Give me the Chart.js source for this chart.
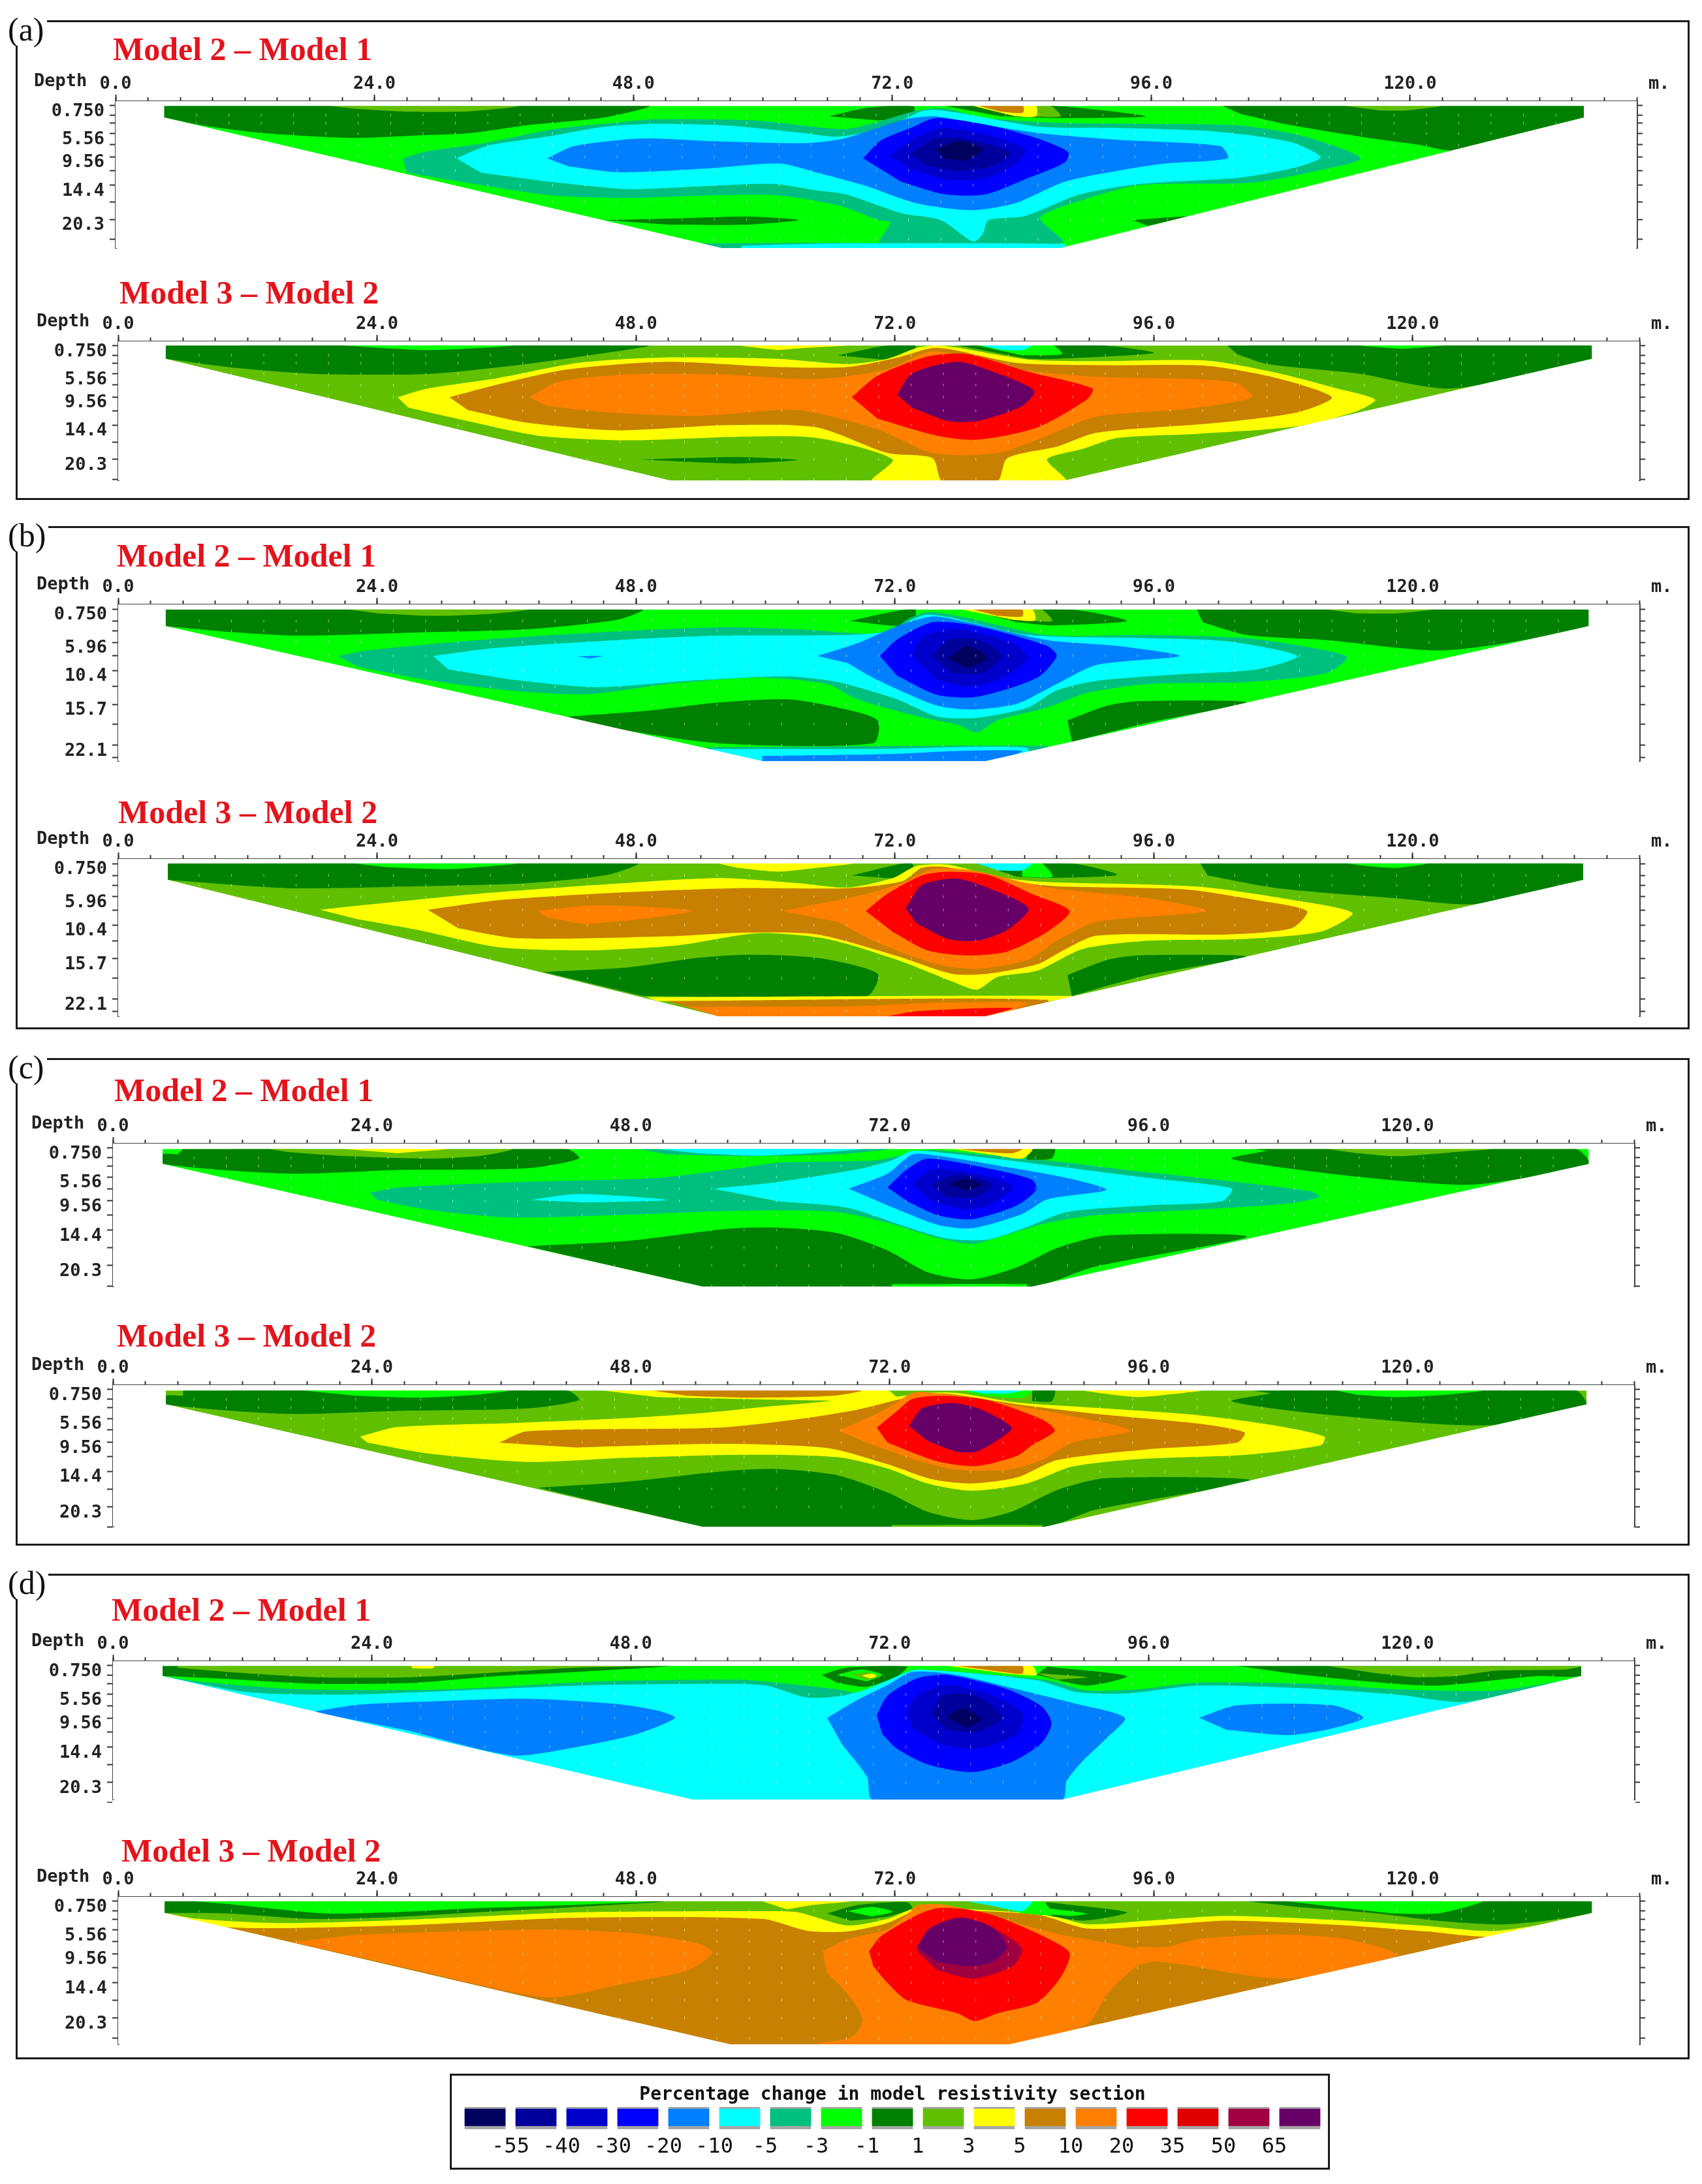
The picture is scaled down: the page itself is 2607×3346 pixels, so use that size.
<!DOCTYPE html>
<html>
<head>
<meta charset="utf-8">
<script src="https://cdn.jsdelivr.net/npm/chart.js@4/dist/chart.umd.min.js"></script>
<style>
  body { margin: 0; background: #fff; }
  #page { position: relative; width: 2607px; height: 3346px; background: #fff; overflow: hidden; }
  canvas { position: absolute; }
  .frame { position: absolute; border: 3px solid #1a1a1a; box-sizing: border-box; }
  .tag { position: absolute; background: #fff; font: 50px "Liberation Serif", serif; color: #111; line-height: 50px; padding: 0 4px 0 12px; }
  .title { position: absolute; font: bold 50px "Liberation Serif", serif; color: #e3141c; line-height: 50px; white-space: pre; }
  .axisText { position: absolute; font: bold 27px "DejaVu Sans Mono", monospace; color: #222; line-height: 26px; }
</style>
</head>
<body>
<div id="page"></div>
<script>
// colour bins, same order as the legend swatches
const binColors = ['#00005f', '#00009a', '#0000cc', '#0000ff', '#0080ff', '#00ffff', '#00c080', '#00ff00', '#008000', '#60c000', '#ffff00', '#c88000', '#ff8000', '#ff0000', '#e00000', '#a00040', '#660066'];
const legendLevels = ['-55', '-40', '-30', '-20', '-10', '-5', '-3', '-1', '1', '3', '5', '10', '20', '35', '50', '65'];
const legendCenters = [0.5, 1.5, 2.5, 3.5, 4.5, 5.5, 6.5, 7.5, 8.5, 9.5, 10.5, 11.5, 12.5, 13.5, 14.5, 15.5, 16.5];
const legendHeights = [1, 1, 1, 1, 1, 1, 1, 1, 1, 1, 1, 1, 1, 1, 1, 1, 1];

// distance along the line (m)
const xLabelled = [0, 24, 48, 72, 96, 120];
const xMinor = [0, 3, 6, 9, 12, 15, 18, 21, 24, 27, 30, 33, 36, 39, 42, 45, 48, 51, 54, 57, 60, 63, 66, 69, 72, 75, 78, 81, 84, 87, 90, 93, 96, 99, 102, 105, 108, 111, 114, 117, 120, 123, 126, 129, 132, 135, 138, 141];
const blockX = [7.5, 10.5, 13.5, 16.5, 19.5, 22.5, 25.5, 28.5, 31.5, 34.5, 37.5, 40.5, 43.5, 46.5, 49.5, 52.5, 55.5, 58.5, 61.5, 64.5, 67.5, 70.5, 73.5, 76.5, 79.5, 82.5, 85.5, 88.5, 91.5, 94.5, 97.5, 100.5, 103.5, 106.5, 109.5, 112.5, 115.5, 118.5, 121.5, 124.5, 127.5, 130.5, 133.5];

// model layer depths (m)
const layersA = [0.75, 2.38, 3.75, 5.56, 7.5, 9.56, 11.9, 14.4, 17.3, 20.3, 23.7];
const labelsA = ['0.750', '5.56', '9.56', '14.4', '20.3'];
const labelDepthsA = [0.75, 5.56, 9.56, 14.4, 20.3];
const layersB = [0.75, 2.6, 4.15, 5.96, 8.05, 10.4, 12.9, 15.7, 18.8, 22.1, 24];
const labelsB = ['0.750', '5.96', '10.4', '15.7', '22.1'];
const labelDepthsB = [0.75, 5.96, 10.4, 15.7, 22.1];

// section (a), Model 2 - Model 1
const a1Outline = [4.5, 0.8, 4.5, 2.8, 56.2, 25.2, 87.6, 25.2, 136.1, 3.5, 136.1, 0.8];
const a1Base = 7;
const a1Bins = [8, 9, 8, 8, 9, 10, 11, 8, 9, 8, 8, 6, 6, 5, 5, 4, 3, 2, 1, 0];
const a1Shapes = [
  [4.5,.8, 49.4,.8, 45.3,2.8, 38.3,4.1, 32.8,5.5, 27.7,5.9, 21.7,6.3, 13.8,5.5, 8.2,4.2, 4.5,2.8],
  [19.8,.8, 37.4,.8, 35.6,1.3, 32.3,1.8, 26.8,1.8, 22.1,1.3],
  [66.1,2.6, 69.8,1.1, 74,.9, 73.7,2.8, 70.7,3.3],
  [76.9,.8, 87.1,.8, 95.5,2.6, 87.1,2.9, 82,2.6],
  [84.8,.8, 86.7,.8, 87.6,2.6, 84.8,2.6],
  [79.5,.8, 85.3,.8, 85.3,2.6, 83.4,2.6],
  [80,.8, 84.1,.8, 84.1,2, 82,1.8],
  [102.6,.8, 136.2,.8, 136.2,3.5, 124.4,8.5, 120.5,7.4, 115.4,6.1, 108.9,4.1, 104.3,2.2],
  [114,.8, 122.8,.8, 119.5,1.6, 117.2,1.6],
  [45.3,20.4, 52.3,20.1, 58.7,19.8, 63.3,20.4, 58.2,21.2, 51.3,21.2],
  [94.3,20.4, 99.4,19.8, 95.7,21.4],
  [26.6,9.8, 28.6,8.7, 34.2,7.2, 40.6,4.8, 46.2,3.7, 49.9,3.1, 59.2,3.3, 67.5,4.8, 70.7,3.5, 74.5,1.5, 77,1.3, 80.2,2.8, 87.1,3.7, 95.5,3.9, 104.3,4.2, 110.3,6.1, 115.4,9.8, 111.2,12, 105.2,14, 95,14.4, 89.9,16.8, 85.7,20, 87.8,24.3, 70.9,24.3, 71.8,20.8, 70.7,20.4, 67,17.9, 61.5,16.2, 54.5,16.2, 47.6,16.6, 40.6,16.2, 34.2,14.5, 27,12.3],
  [54,24.4, 72,24.4, 72,25.2, 54,25.2],
  [58,24.8, 68,24.4, 88,24.5, 88,25.2, 58,25.2],
  [31.6,9.8, 34.6,7.6, 40.6,5.9, 45.3,4.4, 49.9,3.9, 56.9,4.2, 63.8,5.5, 67,6.1, 71.6,4.4, 74.6,1.8, 76,1.5, 78.8,2.2, 85.7,4.4, 92.7,4.6, 101.9,5.2, 108.9,7, 111.7,9.6, 109.3,11.4, 104.3,13.1, 95,14.2, 89.4,16, 84.3,19.7, 80.9,20.4, 80.4,22.7, 79.5,24.1, 76.5,20.4, 72.8,19.2, 67.7,16, 64.9,15.3, 61,14.2, 54.5,14.6, 47.6,15.1, 40.6,13.9, 33.9,12.3],
  [40,9.8, 42.5,7.7, 47.1,6.6, 49.9,6.4, 55.9,6.9, 63.8,7.2, 67.5,6.4, 73.2,3.1, 76,2.6, 78.8,3.5, 85.7,5.5, 92.7,6.6, 102.4,7.7, 103.1,9.8, 97.3,10.7, 92.7,12, 88,13.8, 83.4,17.5, 79.3,18.7, 74.2,17.5, 69.5,14.5, 64.9,12.2, 61.5,10.7, 54.5,11.6, 46.7,12.2, 42,11.2],
  [69.3,9.8, 70.9,6.8, 73.7,4.6, 76,2.9, 81.1,4.2, 85.3,6.3, 88.3,8.7, 88,10.5, 84.3,13.4, 80.6,16, 76.9,16, 72.8,13.8],
  [71.8,9.4, 73.7,6.8, 76.5,4.6, 80.6,5.7, 84.3,8.3, 83.4,10.9, 80.2,13.4, 76.9,13.4, 73.7,11.6],
  [73.7,9, 76,6.4, 79.7,6.8, 83,9, 81.1,11.2, 77.9,12, 75,10.9],
  [76,8.3, 78.3,6.8, 80.4,8.3, 78.8,10.1, 76.9,9.9]
];

// section (a), Model 3 - Model 2
const a2Outline = [4.4, 0.7, 4.4, 3, 51.1, 23.9, 87.8, 23.9, 136.6, 3, 136.6, 0.7];
const a2Base = 9;
const a2Bins = [8, 7, 10, 8, 8, 7, 5, 8, 7, 8, 10, 11, 12, 13, 16];
const a2Shapes = [
  [4.4,.7, 49.1,.7, 44.4,2.2, 37,4.1, 28.7,5.6, 18.5,5.6, 11.1,4.6, 4.4,3],
  [20.8,.7, 36.6,.7, 33.8,1.1, 28.7,1.5, 24.1,1.1],
  [57.4,.7, 67.6,.7, 63.9,1.1, 61.1,1.5],
  [66.7,2.4, 71.3,.7, 73.9,.7, 73.1,3.1, 70.8,3.1],
  [77.8,.7, 91.3,.7, 96,2, 87,3, 84.3,3],
  [79.6,.7, 86.6,.7, 87.5,2.2, 83.8,2.4],
  [80,.7, 84.7,.7, 83.8,1.5, 81.9,1.5],
  [102.8,.7, 136.6,.7, 136.6,3, 123.6,8.1, 114.8,5.5, 106.5,3.9, 103.7,2.2],
  [114.8,.7, 122.7,.7, 119,1.3],
  [48.4,20.3, 57.4,19.9, 63,20.4, 57.4,21, 52.8,20.7],
  [25.9,9.6, 28.7,8.1, 35.2,6.3, 42.6,3.7, 50,2.8, 61.1,3, 67.6,3.9, 71.3,3, 74.1,1.1, 75.9,.7, 77.8,1.1, 84.3,3.1, 90.7,3.4, 100.9,3.3, 107.4,5.4, 113,8.1, 116.5,10, 114.8,12, 109.3,14.6, 100,15.9, 92.6,16.6, 89.4,18.5, 86.1,20.3, 87.8,24, 69.9,24, 71.8,20.3, 64.8,16.6, 57.4,16.4, 47.2,17, 38.9,16.2, 32.4,13.7, 26.9,11.4],
  [30.7,9.6, 35.2,7.4, 41.7,4.8, 50.9,3.5, 61.1,4.4, 67.6,4.4, 72.2,2.8, 75.9,1.1, 83.3,3.7, 91.7,4.1, 100.9,4.2, 107.4,6.3, 112.5,9.6, 109.3,12.2, 101.9,14, 90.7,15.7, 87,18.1, 82.4,20.1, 81.5,24, 76.4,24, 75.5,20.1, 71.3,19.2, 64.8,14.8, 56.5,14.4, 46.3,15.3, 38,14, 32.4,11.8],
  [38.1,9.6, 40.7,7, 47.2,5.7, 55.6,5.7, 64.8,6.5, 71.3,4.8, 75.5,1.7, 83.3,4.8, 90.7,6.1, 100,6.5, 103.7,7.2, 105.1,9.6, 99,11.6, 90.7,12.9, 86.1,16.2, 81.5,19.2, 75.5,19.2, 70.4,15.1, 63,11.8, 53.7,12.8, 45.4,12.2, 39.8,11.1],
  [68,9.6, 70.4,5.9, 75,2.6, 78.7,2.2, 84.3,5.2, 90.3,8.1, 89.8,10, 85.2,14.8, 79.6,16.9, 75.9,16.2, 70.4,13.3],
  [72.2,9.2, 73.6,5.5, 77.8,3.5, 81.5,5.5, 84.9,8.5, 83.8,11.1, 79.6,13.7, 76.9,13.7, 73.6,11.4]
];

// section (b), Model 2 - Model 1
const b1Outline = [4.4, 0.8, 4.4, 3.4, 59.7, 24.6, 80.4, 24.6, 136.3, 3.4, 136.3, 0.8];
const b1Base = 7;
const b1Bins = [8, 9, 8, 8, 9, 10, 11, 8, 9, 8, 8, 6, 5, 4, 6, 5, 4, 4, 3, 2, 1, 0];
const b1Shapes = [
  [4.4,.8, 48.6,.8, 46.3,2.4, 37.9,3.9, 27.8,4.4, 16.7,4.9, 10.2,4.3, 4.4,3.4],
  [21.3,.8, 38,.8, 35.2,1.4, 29.6,1.8, 24.1,1.4],
  [67.8,2.6, 72.2,1, 73.9,.8, 73.6,3.3, 71.3,3.3],
  [78.7,.8, 88.4,.8, 93.5,2.6, 86.6,3.3, 83.3,2.8],
  [84.3,.8, 85.6,.8, 86.6,2.6, 84.7,2.6],
  [78.2,.8, 84.7,.8, 85,2.5, 82.9,2.4],
  [79.2,.8, 83.8,.8, 83.8,1.9, 81.5,1.8],
  [100,.8, 136.3,.8, 136.3,3.4, 123.1,7.2, 112,5.6, 104.6,4.8, 100.5,2.8],
  [112,.8, 121.8,.8, 118.5,1.4, 114.8,1.4],
  [41.7,17.6, 49,16.7, 55.6,15.4, 62,14.9, 66.7,16.2, 70.4,18.2, 70,21.8, 55.6,21.8, 44,19],
  [88,18.2, 91.7,15.9, 94.6,15.2, 104.6,15.4, 95.4,18.6, 88.4,21.6],
  [54.6,22.4, 86.1,22.2, 86.1,23, 54.6,23],
  [55,22.7, 70.4,22.7, 84.2,22.5, 84.2,24.6, 55.6,24.6],
  [59.7,23.8, 71.3,23.5, 77.8,23, 83.8,23, 80.6,24.6, 59.7,24.6],
  [20.4,8.1, 23.1,7.2, 33.3,5.6, 44.4,4.4, 55.6,3.6, 63,3.9, 71.3,4.6, 73.1,2.4, 75,1.2, 77.8,1.8, 86.1,4.8, 95.4,4.8, 104.6,5.3, 110.6,6.8, 113.9,8.3, 112,10.8, 104.6,12.2, 95.4,12.5, 89.8,13.9, 86.1,16.2, 81.5,18.2, 79.6,20.1, 77.8,18.9, 74.1,17.6, 68.5,14.9, 65.7,12.5, 59.3,11.5, 50.9,12.5, 43.5,14.1, 36.1,13.5, 28.7,11.9, 22.2,9.8],
  [29.2,8.1, 35.2,6.8, 46.3,5.6, 55.6,4.9, 67.6,4.8, 71.8,4.1, 73.6,2.4, 75,1.6, 77.8,2.3, 84.3,4.8, 95.4,5.3, 102.8,5.8, 109.3,8.1, 105.6,10.2, 98.1,11, 90.7,12, 87,13.5, 84.3,16.2, 79.6,17.8, 75.9,17.6, 72.2,14.9, 66.7,12.2, 62,11.3, 53.7,11.9, 44.4,13, 37,11.9, 30.6,10.2],
  [42.6,8.1, 44.9,8.1, 43.7,8.5],
  [64.8,8.1, 68.5,6.1, 72.2,3.4, 75.5,1.9, 78.7,2.8, 86.1,5.6, 92.6,6.5, 98.4,8.1, 90.7,9.5, 87,12.5, 83.3,15.6, 79.2,16.5, 75.9,15.9, 70.4,11.9, 67.6,9.2],
  [70.6,8.1, 72.2,5.5, 75.5,2.8, 79.6,3.4, 86.1,6.5, 87,8.1, 85.2,11.5, 79.6,14.5, 75.9,14.2, 72.2,11.2],
  [73.6,8.1, 74.5,5.1, 77.8,3.9, 82.9,6.1, 84.3,8.5, 81.5,11.9, 78.7,12.9, 75.9,11.9],
  [75.5,8.1, 76.9,5.6, 79.6,5.5, 81.9,8.1, 80,10.8, 77.3,10.8],
  [76.9,8.5, 78.7,6.5, 80.6,8.5, 78.7,10]
];

// section (b), Model 3 - Model 2
const b2Outline = [4.6, 0.7, 4.6, 3.3, 55.6, 24.8, 80.4, 24.8, 135.8, 3.3, 135.8, 0.7];
const b2Base = 9;
const b2Bins = [8, 7, 10, 8, 8, 7, 5, 8, 7, 8, 8, 10, 11, 12, 13, 10, 11, 12, 12, 13, 16];
const b2Shapes = [
  [4.6,.7, 48.1,.7, 45.4,2.5, 38,3.8, 27.8,4.3, 15.7,4.6, 4.6,3.3],
  [21.8,.7, 37,.7, 33.3,1.3, 30.6,1.6, 25,1.3],
  [55.6,.7, 68,.7, 64.8,1.4, 61.1,2, 57.4,1.4],
  [68,2.6, 72.2,.9, 73.6,.7, 73.6,3, 71.3,3],
  [79.6,.7, 88.4,.7, 92.6,2.5, 86.1,3, 83.3,2.8],
  [83.8,.7, 85.6,.7, 86.6,2.8, 83.8,2.8],
  [79.6,.7, 84.7,.7, 83.8,1.8, 81.5,1.8],
  [100.3,.7, 135.8,.7, 135.8,3.3, 125.9,7.1, 118.5,6.2, 107.4,4.6, 101,2.6],
  [113.9,.7, 121.3,.7, 118.5,1.4, 115.7,1.1],
  [39.4,17.8, 47.2,17.1, 53.7,15.6, 58.3,15.1, 64.8,15.6, 70.4,18.1, 69.4,21.6, 48.6,21.6],
  [88,18.3, 91.7,15.9, 94.6,15.2, 104.6,15.4, 95.4,18.3, 88.4,21.6],
  [49,21.8, 88.4,21.6, 86.1,22.4, 50,22.4],
  [50.9,22.4, 86.1,22.2, 81.5,24.8, 55.6,24.8],
  [52.8,23.3, 68.5,23.2, 75.9,22.7, 84.3,22.7, 80.4,24.8, 55.6,24.8],
  [71.3,24.8, 74,24, 82.9,23.5, 80.4,24.8],
  [18.7,8, 23.1,7.2, 33.3,5.5, 44.4,4.1, 55.6,3, 63,3.8, 67.6,4.5, 71.8,3, 74,1.1, 76.9,.9, 81.5,2.8, 85.6,3.6, 94.6,4, 101,4.5, 108.3,6.3, 114.4,8.5, 111.6,11.4, 104.6,12.6, 95.4,12.9, 89.4,14.2, 85.2,17.6, 81.5,18.6, 79.6,20.6, 77.3,19.3, 72.2,15.9, 65.7,12.6, 59.3,11.7, 51.9,13.6, 43.5,14.4, 35.2,13.9, 27.8,11.2, 22.2,9.5],
  [28.7,8, 35.2,6.5, 46.3,5.3, 57.4,4.6, 67.6,4.6, 72.7,3.5, 74.5,1.4, 76.9,1.3, 81.9,3.3, 87,4.3, 99,4.8, 105.6,6.5, 110.2,8.2, 108.8,10.9, 102.8,11.9, 90.7,12.1, 87.4,14.6, 85.2,16.6, 80.6,18.1, 77.3,18.1, 72.2,15.3, 64.8,11.9, 58.3,11.6, 50.9,12.2, 37,12.5, 31.5,10.9],
  [38.9,8.2, 44.4,7.3, 53.2,8.2, 43.5,10.2, 39.8,9.2],
  [61.6,8.2, 69.4,5.5, 73.1,3.5, 75.5,1.6, 79.2,1.8, 86.1,4.5, 95.4,6.2, 100.9,8.2, 90.7,9.9, 87,12.9, 84.3,15.9, 79.6,17.3, 75.9,16.6, 70.4,13.2, 66.7,9.9],
  [69.3,8.2, 71.3,5.5, 74.5,2.6, 76.9,2, 80.6,2.5, 84.7,5.5, 88.2,8.2, 86.1,11.5, 82.4,14.6, 78.7,15.2, 75,14.4, 71.8,11.5],
  [73,7.8, 74.5,4.1, 77.8,3.1, 81,4.8, 84.4,7.8, 82.4,11.2, 79.6,12.9, 76.9,12.6, 74,10.2]
];

// section (c), Model 2 - Model 1
const c1Outline = [4.6, 0.9, 4.6, 3.4, 54.6, 23.8, 85.2, 23.8, 136.8, 3.3, 136.8, 0.9];
const c1Base = 7;
const c1Bins = [8, 9, 10, 6, 5, 6, 8, 7, 8, 9, 8, 10, 11, 5, 5, 4, 3, 2, 1, 0];
const c1Shapes = [
  [6.5,.9, 42.1,.9, 43.2,2.5, 38.4,4.1, 26.4,4.4, 16.2,5, 4.6,3.4, 4.6,1.8, 6,1.8],
  [14.4,.9, 37,.9, 34.3,2, 29.2,2.5, 21.8,2.1, 16.2,1.4],
  [21.3,.9, 31,.9, 29.2,1.2, 26.4,1.6],
  [48.6,.9, 71.8,.9, 67.1,1.8, 57.9,2.1, 51.4,1.8],
  [50.5,.9, 69.4,.9, 66.2,1.4, 59.7,2, 54.2,1.6],
  [23.8,8.2, 26.4,7.3, 37.5,6.4, 50.5,5.7, 57.9,4.1, 61.6,3.2, 66.2,3, 70.8,2.8, 72.7,2.1, 75.5,1.1, 78.2,1.4, 86.6,2.8, 94.9,4.6, 103.2,6.2, 111.1,8, 111.8,8.9, 108.8,10, 100.5,11, 91.2,11.9, 86.6,13.2, 81.9,15.7, 79.6,16.7, 76.4,15.7, 71.8,13.2, 67.1,11.4, 57.9,11.2, 46.8,11.9, 36.6,12.3, 29.2,11, 24.5,9.4],
  [38.4,17.1, 47.7,16.2, 56.9,14.2, 61.6,14, 67.1,14.9, 71.8,17.8, 75.5,21.4, 79.6,22.6, 83.8,20.6, 87.5,17.4, 92.1,15.3, 105.1,15.5, 91,20.5, 85.2,23.8, 54.6,23.8],
  [72.2,23.4, 84.7,23.4, 84.7,23.8, 72.2,23.8],
  [105.6,.9, 135.6,.9, 136.8,3.4, 126.4,6.8, 118,6, 108.8,4.1, 103.7,2.5, 107,1.2],
  [112.5,.9, 127.8,.9, 124.5,1.4, 119,2.1, 115.3,1.6],
  [84.7,.9, 87.3,.9, 87,2.5, 84.7,2.7],
  [77.8,.9, 85.2,.9, 84.3,2.5, 82,2],
  [78.2,.9, 84.3,.9, 83.4,1.6, 81,1.4],
  [55.6,7.5, 61.6,6.4, 69,4.3, 72.2,2.8, 74.1,1.2, 77.3,1.6, 86.6,3.6, 95.9,5.7, 103.7,7.5, 102.8,9.6, 95.9,10.3, 88.4,11.4, 84.7,13.9, 81,16, 77.3,15.8, 73.6,13.9, 68.1,10.7, 61.6,9.6],
  [38.7,9.4, 43.1,8.4, 51.4,9.4, 44,9.8],
  [68.2,7.5, 71.8,5, 74.1,1.8, 76.4,2, 81.9,3.6, 88.4,5.7, 92.1,7.7, 86.6,9.3, 84.3,11.7, 79.6,14.1, 76.4,13.5, 71.8,10.3],
  [71.8,7.3, 73.6,4.3, 75.5,2.5, 81,4.1, 85.2,6, 85.6,7.7, 83.8,10.3, 79.6,12.6, 76.4,11.9, 73.6,9.6],
  [74.1,6.8, 75.9,4.3, 80,5, 83.4,7.1, 81.5,10, 79.2,11, 75.9,9.6],
  [75.9,6.8, 78.2,5.2, 81.5,6.8, 80,8.9, 77.3,8.9],
  [77.3,6.8, 79,5.9, 80.5,6.9, 79.2,7.8]
];

// section (c), Model 3 - Model 2
const c2Outline = [4.9, 0.9, 4.9, 3.2, 54.6, 23.6, 86.4, 23.6, 136.6, 3.9, 136.6, 0.9];
const c2Base = 9;
const c2Bins = [8, 7, 10, 11, 8, 7, 5, 10, 8, 7, 8, 9, 10, 11, 12, 13, 16];
const c2Shapes = [
  [6.5,.9, 42.1,.9, 43.2,2.5, 38.4,3.9, 26.4,4.3, 16.2,4.8, 4.9,3.2, 4.9,1.8, 6.5,1.8],
  [17.6,.9, 36.6,.9, 33.8,1.6, 28.2,2.1, 22.7,1.8],
  [45.4,.9, 71.8,.9, 72.7,2.5, 67.1,2.6, 57.9,2.3, 50.5,2],
  [50,.9, 69.4,.9, 66.7,1.8, 58.8,2.1, 53.2,1.8],
  [85.2,.9, 87.3,.9, 87,2.7, 85.2,2.7],
  [78.8,.9, 85.2,.9, 84.3,2.1, 80,1.6],
  [79.2,.9, 84.3,.9, 82.9,1.4, 80.6,1.4],
  [89.8,.9, 100.9,.9, 97.7,1.6, 94.9,2, 91.7,1.4],
  [105.6,.9, 135.6,.9, 136.6,3.9, 128.2,6.6, 122.7,6.5, 110.7,4.6, 103.7,2.7, 107.4,1.4],
  [113.4,.9, 126.9,.9, 123.6,1.6, 119,2, 115.3,1.6],
  [39.4,17.1, 47.7,16.1, 56.9,14.3, 61.6,14, 67.1,15, 71.8,17.9, 75.5,21.1, 79.6,22.5, 83.3,21.1, 87.5,17.5, 92.1,15.5, 105.5,15.9, 91,20.8, 86.4,23.6, 54.6,23.6],
  [72.2,23.3, 86.1,23.3, 86.1,23.6, 72.2,23.6],
  [22.9,8.6, 26.4,7, 37.5,6.3, 47.7,5.5, 55.1,4.6, 60.6,3.6, 67.1,2.5, 69.9,1.1, 71.8,2, 75.5,1.3, 78.2,1.3, 83.8,2.9, 91.2,3.8, 100.5,5, 107.9,6.8, 112.3,8.6, 112,10, 105.1,11.6, 95.4,12.3, 88.9,13.6, 84.7,16.4, 79.6,17.6, 75.5,16.4, 71.8,13.9, 67.1,12, 58.8,11.6, 47.7,12.1, 38.4,12.8, 29.2,11.4, 23.6,9.6],
  [35.8,9.6, 38.4,7.7, 56,7.1, 63.4,5.7, 69,4.1, 73.6,2.1, 76.9,1.4, 83.8,3.2, 91.2,4.8, 100.5,6.4, 104.9,7.9, 104.2,9.6, 95.9,10.7, 87.5,12.5, 83.8,15.4, 79.6,16.4, 75.9,15.7, 71.8,13.2, 66.2,10.5, 56,9.8, 43,10.4],
  [67.3,7.6, 71.8,3.9, 74.1,1.3, 76.4,1.4, 81.9,2.9, 88.4,5, 94.3,7.6, 88.9,9.6, 86.1,12.5, 82.9,14.1, 78.2,14.1, 74.5,12.5, 69.9,9.6],
  [70.8,7.1, 72.7,4.3, 74.1,2.3, 76.9,1.8, 81,2.5, 86.1,5.7, 87.3,7.6, 85.2,10, 83.8,11.8, 80,13.5, 76.4,12.7, 71.8,9.6],
  [73.8,6.8, 75,3.9, 77.8,3, 80.5,4.1, 83.3,7.1, 81.9,9.3, 80,11.1, 78.2,11.1, 75.5,9.3]
];

// section (d), Model 2 - Model 1
const d1Outline = [4.6, 0.8, 4.6, 2.5, 53.7, 23.2, 88, 23.2, 136.1, 2.5, 136.1, 0.8];
const d1Base = 5;
const d1Bins = [6, 7, 8, 9, 10, 8, 7, 9, 10, 8, 9, 10, 11, 8, 9, 4, 4, 4, 3, 2, 1, 0];
const d1Shapes = [
  [4.6,.8, 136.1,.8, 136.1,2.5, 125.5,6.8, 119,5.6, 109.7,4.5, 100.5,4.1, 94,5.4, 89.4,5.2, 85.6,3.2, 74.5,1.4, 72.7,2.5, 68.1,5.6, 64.4,6.1, 60.6,4.1, 56.9,3.8, 44.9,4, 31,5, 21.3,5.6, 12.5,5.2, 4.6,2.5],
  [4.6,.8, 136.1,.8, 136.1,2.5, 128.2,4.9, 119,4.7, 110.9,3.8, 100.5,3.6, 95,4.7, 90.3,4.9, 86.6,3.2, 74.5,1.4, 72.7,2.5, 69,5.2, 67.1,4.7, 62.5,3.8, 57.9,3.1, 44.9,3.4, 31,4.7, 17.1,4.7, 7.9,3.4, 4.6,2.5],
  [4.6,.8, 51.4,.8, 43,1.8, 35.6,2.5, 28.2,3.6, 19,3.8, 9.7,2.9, 4.6,2.5],
  [6,.8, 50.9,.8, 43,1.1, 34.7,2, 27.3,2.7, 19,2.7, 10.6,1.8, 6,1.1],
  [27.6,.8, 29.8,.8, 29.6,1.2, 27.8,1.2],
  [65.7,2.3, 68,1.1, 73.6,.9, 72.7,2.5, 69.9,4.3, 67.1,3.6],
  [67.1,2.3, 69.4,1.4, 71.3,2.3, 69.9,3.4],
  [68.5,2.3, 69.9,1.9, 71,2.5, 69.9,3.2],
  [69.4,2.4, 70.4,2.1, 70.8,2.5, 70.2,2.9],
  [86.6,.9, 94,2.5, 90.3,4.1, 85.6,2.3],
  [85.6,2, 90.3,2.7, 87.5,3.1],
  [77.3,.8, 85.2,.8, 85.6,2.3, 83.3,2.2],
  [78.2,.8, 84.3,.8, 84.3,2.1, 82.4,1.8],
  [104.2,.8, 136.1,.8, 136.1,2.5, 132,2.5, 122.7,4.1, 116.2,3.4, 109.7,2.2],
  [112.5,.8, 136.1,.8, 134.7,1.4, 128.2,1.6, 124.5,2.5, 120.8,2.7, 117,2],
  [18.5,8.5, 22.7,7.3, 30.1,6.7, 38.4,6.3, 46.8,7.2, 50.5,8.3, 52.1,9.5, 48.6,12.2, 43,14.4, 37,15.8, 27,11.5],
  [100.7,9.5, 104.2,7.4, 113,7.4, 115.9,9.5, 112.5,11.5, 108.8,12.4, 103.2,11.5],
  [66.2,9.5, 69,6.5, 71.8,4, 74.1,1.8, 78.2,2.3, 83.8,4.7, 89.4,7.2, 93.8,9.5, 92.1,12.9, 89.8,16.9, 88.4,20.1, 88,23.2, 70.4,23.2, 69.9,19.4, 67.6,14],
  [70.8,9, 71.8,5.8, 74.5,2.9, 77.3,2.3, 82.9,4.7, 86.1,7.6, 87,10.4, 86.1,13.7, 83.3,16.9, 79.6,18.6, 75.5,17.3, 72.7,14.7, 71.3,12.2],
  [73.6,8.6, 74.5,5.8, 77.3,4, 81,5.4, 84.3,8.6, 83.8,12.2, 80,14.7, 76.4,13.7, 74.1,11.2],
  [75.9,9, 76.9,5.8, 80,5.8, 82.4,9.4, 80,11.9, 77.3,11.5],
  [77.3,9.4, 78.7,7.9, 80.5,9.7, 79.2,11.2]
];

// section (d), Model 3 - Model 2
const d2Outline = [4.3, 0.75, 4.3, 2.7, 56.7, 24.7, 82.6, 24.7, 136.6, 2.7, 136.6, 0.75];
const d2Base = 11;
const d2Bins = [10, 9, 8, 7, 10, 8, 7, 8, 7, 7, 5, 8, 7, 12, 12, 12, 13, 15, 16];
const d2Shapes = [
  [4.3,.75, 136.6,.75, 136.6,2.7, 127.3,6.6, 121.3,5.8, 113.9,4.8, 102.8,4, 96.3,4.8, 89.8,5.3, 85.2,3, 74.1,2.3, 71.3,4.4, 67.6,5.8, 63.9,5.7, 59.7,3.7, 42.6,3.5, 25.9,4.8, 10.2,5.1, 4.3,2.7],
  [4.3,.75, 136.6,.75, 136.6,2.7, 127.8,5.7, 121.3,4.9, 113.9,4, 102.8,3.2, 95.4,4, 89.8,4.6, 86.1,3, 74.1,1.9, 71.3,3.7, 67.6,4.8, 63,2.6, 60.2,2.4, 42.6,2.6, 25.9,3.9, 14.8,4.4, 7.4,3.7, 4.3,2.7],
  [4.3,.75, 50.5,.75, 42.6,1.7, 35.2,2.4, 24.1,3.5, 17.6,3.7, 10.2,2.8, 4.3,2.7],
  [6.9,.75, 49.5,.75, 41.7,1.4, 33.3,1.9, 25,2.6, 19.4,2.8, 13.9,1.9, 10.2,1.2],
  [59.7,.75, 68,.75, 64.3,1.4, 62,2.1],
  [65.7,2.8, 68.5,1.4, 73.1,.9, 73.6,1.9, 71.3,3.3, 67.9,4],
  [67.6,2.4, 69.9,1.7, 71.8,2.5, 69.9,3.3],
  [86.1,.9, 93.5,2.6, 89.4,4, 85.2,2.8],
  [86.1,1.9, 89.8,2.8, 88.4,3.2, 85.6,2.8],
  [79.6,.75, 85.6,.75, 86.6,3, 83.8,2.8],
  [78.7,.75, 84.7,.75, 83.8,2.4, 81.5,1.7],
  [104.6,.75, 136.6,.75, 136.6,2.7, 128.7,4.6, 122.2,4, 116.7,2.8, 109.3,1.7],
  [108.3,.75, 126.4,.75, 125,1.7, 122.2,2.8, 118.5,2.8, 113.9,1.9],
  [16.2,7.6, 22.2,6.4, 33.3,5.7, 40.7,5.5, 48.1,6.2, 53.7,7.8, 55.1,9.4, 52.8,12.3, 47.2,14.4, 39.8,16.8, 27,12],
  [94.4,8.4, 97.2,8.4, 100,7.1, 107.4,6.3, 113.9,7.1, 118.5,9.8, 108.3,13.7, 98.1,11.2, 94.6,10.5],
  [65.3,9.1, 67.6,7.1, 71.3,5.5, 73.1,3, 74.1,1.4, 76.9,1.4, 87,6.2, 94.4,8.7, 96.3,10.5, 94.4,11.6, 91.7,16.2, 89.8,21.3, 82.6,24.7, 64.8,24.7, 68.1,23.4, 69,20.5, 67.6,16.2, 65.7,12.7],
  [69.6,9.1, 70.7,6.6, 74.1,3, 75.9,1.9, 78.7,2.1, 81.5,3.3, 86.1,6.9, 88.2,9.4, 87.4,13.4, 85.2,17.7, 81.5,19.5, 79.4,20.8, 77.8,19.5, 73.1,17.3, 71.3,14.4, 70,11.6],
  [74,9.1, 75,5.5, 77.8,3.5, 81,5.1, 83.8,8.7, 82.9,11.6, 79.2,13.7, 75.9,12.3],
  [74,8.4, 75.5,5.1, 78.2,3.5, 81,5.1, 82.4,8.4, 81,10.9, 78.7,11.6, 75.9,10.9]
];

const AXIS_MAX = 141;
const axisFont = { family: '"DejaVu Sans Mono", monospace', size: 27, weight: 'bold', lineHeight: 1 };

function toPoints(flat) {
  const pts = [];
  for (let i = 0; i < flat.length; i += 2) pts.push({ x: flat[i], y: flat[i + 1] });
  return pts;
}

function polygon(flat, color, tension) {
  return {
    type: 'scatter', showLine: true, data: toPoints(flat),
    backgroundColor: color, borderWidth: 0, borderColor: color,
    pointRadius: 0, fill: 'shape', tension: tension
  };
}

// white pieces that trim the contours to the section outline
function maskPieces(o, ymax) {
  const [xTL, dT, , dN, xBL, dB, xBR] = o;
  const xTR = o[8], low = ymax + 1;
  return [
    [0, 0, AXIS_MAX, 0, AXIS_MAX, dT, 0, dT],
    [0, 0, xTL, 0, xTL, dN, xBL, dB, xBL, low, 0, low],
    [AXIS_MAX, 0, xTR, 0, xTR, dN, xBR, dB, xBR, low, AXIS_MAX, low],
    [xBL, dB, xBR, dB, xBR, low, xBL, low]
  ];
}

function blockMarks(o, layers) {
  const [xTL, , , dN, xBL, dB, xBR] = o;
  const xTR = o[8];
  const pts = [];
  layers.slice(1).forEach(d => {
    if (d > dB) return;
    const t = Math.max(0, (d - dN) / (dB - dN));
    const lo = xTL + (xBL - xTL) * t, hi = xTR + (xBR - xTR) * t;
    blockX.forEach(x => { if (x > lo && x < hi) pts.push({ x: x, y: d }); });
  });
  return pts;
}

const page = document.getElementById('page');

function addDiv(cls, text, left, top, extra) {
  const el = document.createElement('div');
  el.className = cls;
  el.textContent = text;
  el.style.left = left + 'px';
  el.style.top = top + 'px';
  Object.assign(el.style, extra || {});
  page.appendChild(el);
}

function drawSection(cfg) {
  const H = 60; // room for the tick labels above the axis
  const canvas = document.createElement('canvas');
  canvas.width = 2607;
  canvas.height = cfg.bottom - cfg.top + H + 2;
  canvas.style.left = '0px';
  canvas.style.top = (cfg.top - H) + 'px';
  page.appendChild(canvas);

  const layers = cfg.layers;
  const datasets = [polygon(cfg.outline, binColors[cfg.base], 0)];
  cfg.shapes.forEach((s, i) => datasets.push(polygon(s, binColors[cfg.bins[i]], 0.25)));
  maskPieces(cfg.outline, cfg.ymax).forEach(m => datasets.push(polygon(m, '#ffffff', 0)));
  datasets.splice(datasets.length - 4, 0, {
    type: 'scatter', data: blockMarks(cfg.outline, layers),
    pointStyle: 'line', rotation: 90, pointRadius: 2,
    borderColor: 'rgba(255,255,255,0.55)', backgroundColor: 'rgba(255,255,255,0.55)', borderWidth: 1
  });
  datasets.forEach((d, i) => { d.order = datasets.length - i; });

  const tickLabel = v => {
    const k = cfg.labelDepths.indexOf(v);
    return k >= 0 ? cfg.labels[k] : '';
  };

  new Chart(canvas, {
    data: { datasets: datasets },
    options: {
      responsive: false, animation: false, devicePixelRatio: 1,
      layout: { padding: { bottom: 2 } },
      plugins: { legend: { display: false }, tooltip: { enabled: false }, title: { display: false } },
      scales: {
        x: {
          type: 'linear', position: 'top', min: 0, max: AXIS_MAX, weight: 1, z: 1,
          afterBuildTicks: s => { s.ticks = xLabelled.map(v => ({ value: v })); },
          afterFit: s => { s.height = H; s.paddingLeft = 0; s.paddingRight = 0; },
          ticks: { autoSkip: false, maxRotation: 0, padding: 3, color: '#222', font: axisFont, callback: v => v.toFixed(1) },
          grid: { drawOnChartArea: false, tickLength: 10, tickColor: '#333', tickWidth: 2 },
          border: { display: true, color: '#444', width: 3 }
        },
        xMinor: {
          type: 'linear', position: 'top', min: 0, max: AXIS_MAX, weight: 0, z: 1,
          afterBuildTicks: s => { s.ticks = xMinor.map(v => ({ value: v })); },
          afterFit: s => { s.height = 0; },
          ticks: { display: false, autoSkip: false },
          grid: { drawOnChartArea: false, tickLength: 6, tickColor: '#333', tickWidth: 2 },
          border: { display: false }
        },
        y: {
          type: 'linear', position: 'left', reverse: true, min: 0, max: cfg.ymax, z: 1,
          afterBuildTicks: s => { s.ticks = layers.map(v => ({ value: v })); },
          afterFit: s => { s.width = cfg.left; s.paddingTop = 0; s.paddingBottom = 0; },
          ticks: { autoSkip: false, padding: 8, labelOffset: 9, color: '#222', font: axisFont, callback: tickLabel },
          grid: { drawOnChartArea: false, tickLength: 9, tickColor: '#333', tickWidth: 2 },
          border: { display: true, color: '#444', width: 3 }
        },
        yRight: {
          type: 'linear', position: 'right', reverse: true, min: 0, max: cfg.ymax, z: 1,
          afterBuildTicks: s => { s.ticks = layers.map(v => ({ value: v })); },
          afterFit: s => { s.width = 2607 - cfg.left - 2330; s.paddingTop = 0; s.paddingBottom = 0; },
          ticks: { display: false, autoSkip: false },
          grid: { drawOnChartArea: false, tickLength: 9, tickColor: '#333', tickWidth: 2 },
          border: { display: true, color: '#444', width: 3 }
        }
      }
    }
  });

  addDiv('axisText', 'Depth', cfg.left - 125, cfg.top - 45);
  addDiv('axisText', 'm.', cfg.left + 2348, cfg.top - 41);
}

// frames round each group of two sections
[[31, 766, '(a)'], [806, 1577, '(b)'], [1621, 2368, '(c)'], [2411, 3155, '(d)']].forEach(([t, b, tag]) => {
  addDiv('frame', '', 24, t, { width: '2564px', height: (b - t) + 'px' });
  addDiv('tag', tag, 0, t - 11, {});
});

// titles
[['Model 2 – Model 1', 173, 50], ['Model 3 – Model 2', 183, 423], ['Model 2 – Model 1', 179, 826], ['Model 3 – Model 2', 181, 1219],
 ['Model 2 – Model 1', 175, 1645], ['Model 3 – Model 2', 179, 2021], ['Model 2 – Model 1', 171, 2441], ['Model 3 – Model 2', 186, 2810]].forEach(([t, x, y]) => {
  addDiv('title', t, x, y);
});

drawSection({ left: 177, top: 155, bottom: 383, ymax: 25.2, outline: a1Outline, base: a1Base, bins: a1Bins, shapes: a1Shapes, layers: layersA, labels: labelsA, labelDepths: labelDepthsA });
drawSection({ left: 181, top: 523, bottom: 739, ymax: 23.9, outline: a2Outline, base: a2Base, bins: a2Bins, shapes: a2Shapes, layers: layersA, labels: labelsA, labelDepths: labelDepthsA });
drawSection({ left: 181, top: 926, bottom: 1169, ymax: 24.6, outline: b1Outline, base: b1Base, bins: b1Bins, shapes: b1Shapes, layers: layersB, labels: labelsB, labelDepths: labelDepthsB });
drawSection({ left: 181, top: 1316, bottom: 1560, ymax: 24.8, outline: b2Outline, base: b2Base, bins: b2Bins, shapes: b2Shapes, layers: layersB, labels: labelsB, labelDepths: labelDepthsB });
drawSection({ left: 173, top: 1752, bottom: 1974, ymax: 23.8, outline: c1Outline, base: c1Base, bins: c1Bins, shapes: c1Shapes, layers: layersA, labels: labelsA, labelDepths: labelDepthsA });
drawSection({ left: 173, top: 2122, bottom: 2342, ymax: 23.6, outline: c2Outline, base: c2Base, bins: c2Bins, shapes: c2Shapes, layers: layersA, labels: labelsA, labelDepths: labelDepthsA });
drawSection({ left: 173, top: 2545, bottom: 2760, ymax: 23.2, outline: d1Outline, base: d1Base, bins: d1Bins, shapes: d1Shapes, layers: layersA, labels: labelsA, labelDepths: labelDepthsA });
drawSection({ left: 181, top: 2906, bottom: 3135, ymax: 24.7, outline: d2Outline, base: d2Base, bins: d2Bins, shapes: d2Shapes, layers: layersA, labels: labelsA, labelDepths: labelDepthsA });

// colour scale
addDiv('frame', '', 689, 3177, { width: '1348px', height: '147px' });
const legendCanvas = document.createElement('canvas');
legendCanvas.width = 1346;
legendCanvas.height = 142;
legendCanvas.style.left = '690px';
legendCanvas.style.top = '3180px';
page.appendChild(legendCanvas);

new Chart(legendCanvas, {
  type: 'bar',
  data: {
    datasets: [{
      data: legendCenters.map((x, i) => ({ x: x, y: legendHeights[i] })),
      backgroundColor: binColors, barThickness: 63,
      borderColor: 'rgba(0,0,0,0.35)', borderWidth: { top: 3, bottom: 5, left: 0, right: 0 }, borderSkipped: false
    }]
  },
  options: {
    responsive: false, animation: false, devicePixelRatio: 1,
    layout: { padding: { left: 14, right: 6 } },
    plugins: {
      legend: { display: false }, tooltip: { enabled: false },
      title: {
        display: true, text: 'Percentage change in model resistivity section', color: '#111',
        padding: { top: 16, bottom: 4 },
        font: { family: '"DejaVu Sans Mono", monospace', size: 28, weight: 'bold', lineHeight: 1 }
      }
    },
    scales: {
      x: {
        type: 'linear', min: 0, max: 17, offset: false,
        afterBuildTicks: s => { s.ticks = legendLevels.map((l, i) => ({ value: i + 1 })); },
        afterFit: s => { s.height = 60; s.paddingLeft = 0; s.paddingRight = 0; },
        ticks: {
          autoSkip: false, maxRotation: 0, padding: 8, color: '#111',
          font: { family: '"DejaVu Sans Mono", monospace', size: 32 },
          callback: v => legendLevels[v - 1]
        },
        grid: { display: false, drawTicks: false, offset: false }, border: { display: false }
      },
      y: { min: 0, max: 1, display: false }
    }
  }
});
</script>
</body>
</html>
